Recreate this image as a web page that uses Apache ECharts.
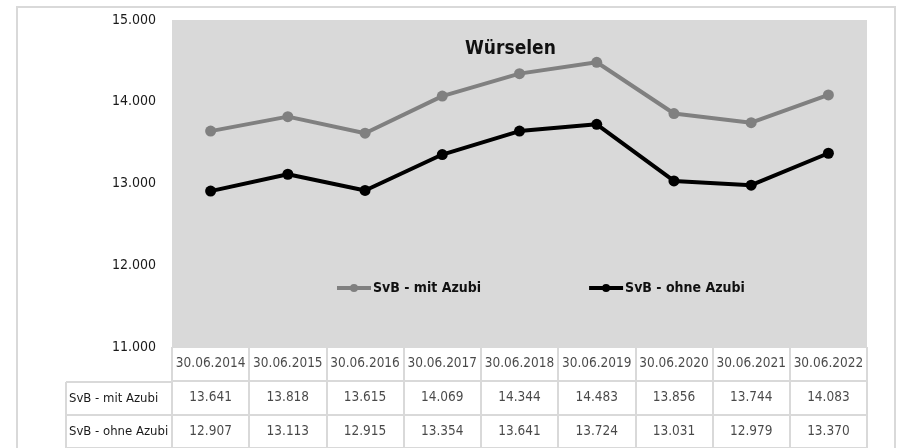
<!DOCTYPE html>
<html>
<head>
<meta charset="utf-8">
<script src="https://cdn.jsdelivr.net/npm/echarts@6/dist/echarts.min.js"></script>
<style>
html,body{margin:0;padding:0;background:#fff;}
#wrap{position:relative;width:904px;height:448px;overflow:hidden;}
#frame{position:absolute;left:16px;top:6px;width:880px;height:460px;border:2px solid #d9d9d9;box-sizing:border-box;}
#chart{position:absolute;left:0;top:0;width:904px;height:448px;}
</style>
</head>
<body>
<div id="wrap"><div id="frame"></div><div id="chart"></div></div>
<script>
const categories = ['30.06.2014','30.06.2015','30.06.2016','30.06.2017','30.06.2018','30.06.2019','30.06.2020','30.06.2021','30.06.2022'];
const mitAzubi = [13641,13818,13615,14069,14344,14483,13856,13744,14083];
const ohneAzubi = [12907,13113,12915,13354,13641,13724,13031,12979,13370];
const seriesNames = ['SvB - mit Azubi','SvB - ohne Azubi'];
const yTicks = [11000,12000,13000,14000,15000];
const titleText = 'Würselen';

const FONT = '"DejaVu Sans Condensed", "Liberation Sans Narrow", sans-serif';
const fmt = v => String(v).replace(/\B(?=(\d{3})+(?!\d))/g, '.');
const tableRows = ['dates', seriesNames[0], seriesNames[1]];

function rowData(row, texts) {
  return texts.map((t, i) => ({ name: t, value: [i, row] }));
}
const cellLabel = { show: true, position: 'inside', formatter: '{b}', color: '#1a1a1a', fontFamily: FONT, fontSize: 13.5 };
const cellSeries = (row, texts) => ({
  type: 'scatter', xAxisIndex: 1, yAxisIndex: 1, symbol: 'rect', symbolSize: 1,
  itemStyle: { color: 'rgba(0,0,0,0)' }, label: cellLabel, silent: true, z: 5,
  data: rowData(row, texts)
});
const gridLine = { show: true, interval: 0, lineStyle: { color: '#d9d9d9', width: 2 } };

const chart = echarts.init(document.getElementById('chart'), null, { renderer: 'canvas' });
chart.setOption({
  backgroundColor: 'transparent',
  animation: false,
  title: {
    text: titleText, left: 460, top: 35,
    textStyle: { fontFamily: FONT, fontWeight: 'bold', fontSize: 19, color: '#111' }
  },
  legend: {
    data: seriesNames, left: 330, top: 276, itemGap: 106, itemWidth: 34, itemHeight: 10,
    lineStyle: { width: 4 },
    textStyle: { fontFamily: FONT, fontWeight: 'bold', fontSize: 14, color: '#111', padding: [0,0,0,-3] }
  },
  grid: [
    { left: 172, right: 37, top: 20, bottom: 101, show: true, backgroundColor: '#d9d9d9', borderWidth: 0 },
    { left: 172, right: 37, top: 347, bottom: -3, show: false },
    { left: 66, width: 106, top: 382, bottom: -3, show: false }
  ],
  xAxis: [
    { type: 'category', gridIndex: 0, data: categories, boundaryGap: true,
      axisLine: { show: false }, axisTick: { show: false }, axisLabel: { show: false }, splitLine: { show: false } },
    { type: 'category', gridIndex: 1, data: categories, boundaryGap: true,
      axisLine: { show: false }, axisTick: { show: false }, axisLabel: { show: false, interval: 0 },
      splitLine: gridLine },
    { type: 'category', gridIndex: 2, data: [''], boundaryGap: true,
      axisLine: { show: false }, axisTick: { show: false }, axisLabel: { show: false, interval: 0 },
      splitLine: gridLine }
  ],
  yAxis: [
    { type: 'value', gridIndex: 0, min: yTicks[0], max: yTicks[yTicks.length-1], interval: 1000,
      axisLine: { show: false }, axisTick: { show: false }, splitLine: { show: false },
      axisLabel: { formatter: v => fmt(v), fontFamily: FONT, fontSize: 14, color: '#1a1a1a', margin: 16 } },
    { type: 'category', gridIndex: 1, data: tableRows, inverse: true, boundaryGap: true,
      axisLine: { show: false }, axisTick: { show: false }, axisLabel: { show: false, interval: 0 },
      splitLine: gridLine },
    { type: 'category', gridIndex: 2, data: seriesNames, inverse: true, boundaryGap: true,
      axisLine: { show: false }, axisTick: { show: false },
      axisLabel: { show: true, interval: 0, inside: true, margin: 3, fontFamily: FONT, fontSize: 13, color: '#1a1a1a' },
      splitLine: gridLine }
  ],
  series: [
    { name: seriesNames[0], type: 'line', data: mitAzubi, symbol: 'circle', symbolSize: 11,
      lineStyle: { width: 4, color: '#808080' }, itemStyle: { color: '#808080' }, z: 3 },
    { name: seriesNames[1], type: 'line', data: ohneAzubi, symbol: 'circle', symbolSize: 11,
      lineStyle: { width: 4, color: '#000' }, itemStyle: { color: '#000' }, z: 3 },
    cellSeries(0, categories),
    cellSeries(1, mitAzubi.map(fmt)),
    cellSeries(2, ohneAzubi.map(fmt))
  ]
});
</script>
</body>
</html>
